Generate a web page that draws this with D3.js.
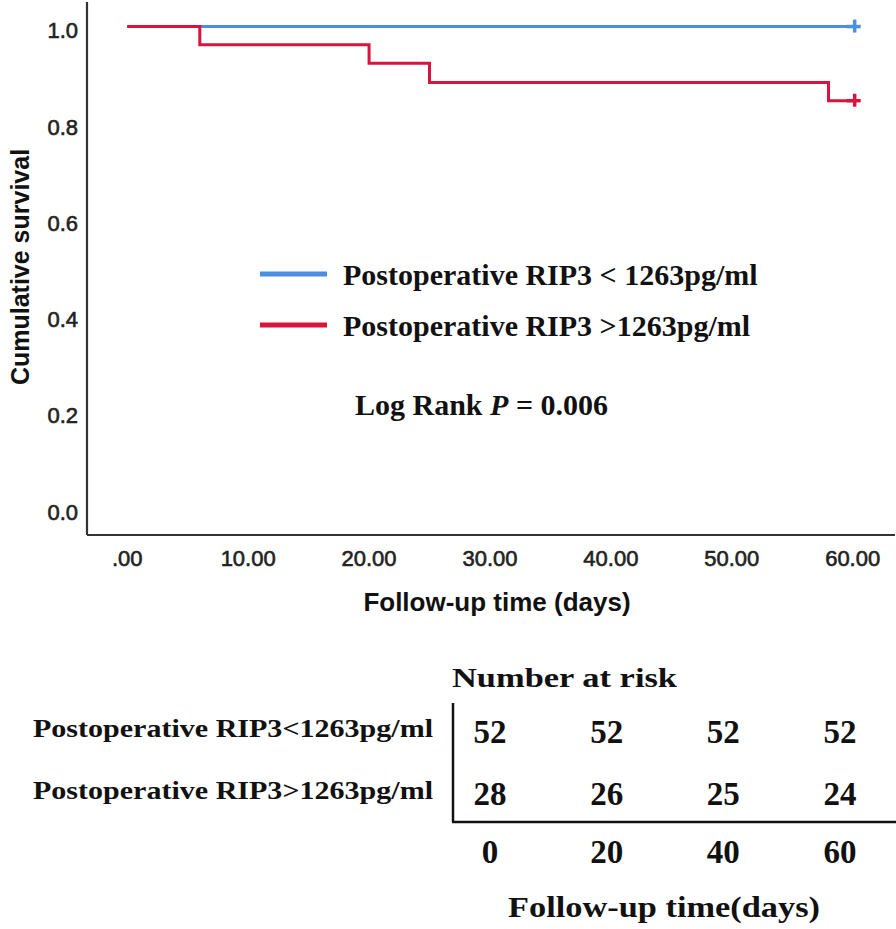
<!DOCTYPE html>
<html>
<head>
<meta charset="utf-8">
<script src="https://cdn.jsdelivr.net/npm/d3@7"></script>
<style>
  body { margin: 0; background: #fff; }
  svg { display: block; }
</style>
</head>
<body>
<div id="chart"></div>
<script>

// survival data (step points: time, survival)
var low_steps = [[0, 1.0], [60, 1.0]];
var high_steps = [[0, 1.0], [6, 0.962], [20, 0.924], [25, 0.884], [58, 0.846], [60, 0.846]];
var low_censor = [[60, 1.0]];
var high_censor = [[60, 0.846]];

var y_ticks = [0.0, 0.2, 0.4, 0.6, 0.8, 1.0];
var x_ticks = [0, 10, 20, 30, 40, 50, 60];

var risk_times = [0, 20, 40, 60];
var risk_low = [52, 52, 52, 52];
var risk_high = [28, 26, 25, 24];
var group_names = ['Postoperative RIP3<1263pg/ml', 'Postoperative RIP3>1263pg/ml'];
var legend_names = ['Postoperative RIP3 < 1263pg/ml', 'Postoperative RIP3 >1263pg/ml'];

var blue = '#4a8fe2';
var red = '#d8143e';
var sans = '"Liberation Sans", Arial, sans-serif';
var serif = '"Liberation Serif", "Times New Roman", serif';

var width = 896, height = 929;

var svg = d3.select('#chart').append('svg')
  .attr('width', width)
  .attr('height', height);

var x = d3.scaleLinear().domain([-3.33, 63.5]).range([87, 895]);
var y = d3.scaleLinear().domain([-0.056, 1.051]).range([535, 2]);

// axes
svg.append('line')
  .attr('x1', x(-3.33)).attr('x2', x(-3.33))
  .attr('y1', y(1.051)).attr('y2', y(-0.056))
  .style('stroke', '#333').style('stroke-width', 2.2);

svg.append('line')
  .attr('x1', x(-3.33)).attr('x2', x(63.5))
  .attr('y1', y(-0.056)).attr('y2', y(-0.056))
  .style('stroke', '#333').style('stroke-width', 2.2);

svg.selectAll('.ytick')
  .data(y_ticks)
  .enter()
  .append('text')
  .attr('class', 'ytick')
  .attr('x', 78)
  .attr('y', function(d){ return y(d) + 4; })
  .attr('dy', '0.35em')
  .attr('text-anchor', 'end')
  .style('font-family', sans)
  .style('font-size', '22px')
  .style('fill', '#222')
  .style('stroke', '#222')
  .style('stroke-width', 0.6)
  .text(function(d){ return d3.format('.1f')(d); });

svg.selectAll('.xtick')
  .data(x_ticks)
  .enter()
  .append('text')
  .attr('class', 'xtick')
  .attr('x', function(d){ return x(d); })
  .attr('y', 566)
  .attr('text-anchor', 'middle')
  .style('font-family', sans)
  .style('font-size', '22px')
  .style('fill', '#222')
  .style('stroke', '#222')
  .style('stroke-width', 0.6)
  .text(function(d){ return d === 0 ? '.00' : d3.format('.2f')(d); });

svg.append('text')
  .attr('transform', 'translate(29,267) rotate(-90)')
  .attr('text-anchor', 'middle')
  .style('font-family', sans)
  .style('font-weight', 'bold')
  .style('font-size', '25px')
  .style('fill', '#111')
  .text('Cumulative survival');

svg.append('text')
  .attr('x', 497)
  .attr('y', 611)
  .attr('text-anchor', 'middle')
  .style('font-family', sans)
  .style('font-weight', 'bold')
  .style('font-size', '26px')
  .style('fill', '#111')
  .text('Follow-up time (days)');

// curves
var step_line = d3.line()
  .x(function(d){ return x(d[0]); })
  .y(function(d){ return y(d[1]); })
  .curve(d3.curveStepAfter);

function draw_curve(steps, censor, color){
  svg.append('path')
    .datum(steps)
    .attr('d', step_line)
    .style('fill', 'none')
    .style('stroke', color)
    .style('stroke-width', 3);

  var marks = svg.selectAll(null)
    .data(censor)
    .enter()
    .append('g')
    .attr('transform', function(d){ return 'translate(' + x(d[0]) + ',' + y(d[1]) + ')'; });

  marks.append('line')
    .attr('x1', -6).attr('x2', 8).attr('y1', 0).attr('y2', 0)
    .style('stroke', color).style('stroke-width', 3.5);
  marks.append('line')
    .attr('x1', 2).attr('x2', 2).attr('y1', -7).attr('y2', 6)
    .style('stroke', color).style('stroke-width', 3.5);
}

draw_curve(low_steps, low_censor, blue);
draw_curve(high_steps, high_censor, red);

// legend
var legend = svg.selectAll('.legend')
  .data(legend_names)
  .enter()
  .append('g')
  .attr('class', 'legend')
  .attr('transform', function(d, i){ return 'translate(260,' + (274 + i * 51) + ')'; });

legend.append('line')
  .attr('x1', 0).attr('x2', 67)
  .style('stroke', function(d, i){ return i === 0 ? blue : red; })
  .style('stroke-width', 5);

legend.append('text')
  .attr('x', 83)
  .attr('y', 11)
  .style('font-family', serif)
  .style('font-weight', 'bold')
  .style('font-size', '30px')
  .style('fill', '#111')
  .text(function(d){ return d; });

var logrank = svg.append('text')
  .attr('x', 355)
  .attr('y', 415)
  .style('font-family', serif)
  .style('font-weight', 'bold')
  .style('font-size', '30px')
  .style('fill', '#111');
logrank.append('tspan').text('Log Rank ');
logrank.append('tspan').style('font-style', 'italic').text('P');
logrank.append('tspan').text(' = 0.006');

// number at risk table
var rx = d3.scaleLinear().domain([0, 60]).range([490, 840]);
var row_y = [743, 805];

svg.append('text')
  .attr('x', 452)
  .attr('y', 687)
  .attr('textLength', 225)
  .attr('lengthAdjust', 'spacingAndGlyphs')
  .style('font-family', serif)
  .style('font-weight', 'bold')
  .style('font-size', '27px')
  .style('fill', '#111')
  .text('Number at risk');

svg.selectAll('.group_name')
  .data(group_names)
  .enter()
  .append('text')
  .attr('class', 'group_name')
  .attr('x', 33)
  .attr('y', function(d, i){ return row_y[i] - 6; })
  .attr('textLength', 400)
  .attr('lengthAdjust', 'spacingAndGlyphs')
  .style('font-family', serif)
  .style('font-weight', 'bold')
  .style('font-size', '26px')
  .style('fill', '#111')
  .text(function(d){ return d; });

[risk_low, risk_high].forEach(function(row, i){
  svg.selectAll(null)
    .data(row)
    .enter()
    .append('text')
    .attr('x', function(d, j){ return rx(risk_times[j]); })
    .attr('y', row_y[i])
    .attr('text-anchor', 'middle')
    .style('font-family', serif)
    .style('font-weight', 'bold')
    .style('font-size', '33px')
    .style('fill', '#111')
    .text(function(d){ return d; });
});

svg.append('line')
  .attr('x1', 453).attr('x2', 453)
  .attr('y1', 703).attr('y2', 822)
  .style('stroke', '#111').style('stroke-width', 2.5);
svg.append('line')
  .attr('x1', 452).attr('x2', 896)
  .attr('y1', 822).attr('y2', 822)
  .style('stroke', '#111').style('stroke-width', 2.5);

svg.selectAll('.risk_tick')
  .data(risk_times)
  .enter()
  .append('text')
  .attr('class', 'risk_tick')
  .attr('x', function(d){ return rx(d); })
  .attr('y', 863)
  .attr('text-anchor', 'middle')
  .style('font-family', serif)
  .style('font-weight', 'bold')
  .style('font-size', '33px')
  .style('fill', '#111')
  .text(function(d){ return d; });

svg.append('text')
  .attr('x', 508)
  .attr('y', 917)
  .attr('textLength', 312)
  .attr('lengthAdjust', 'spacingAndGlyphs')
  .style('font-family', serif)
  .style('font-weight', 'bold')
  .style('font-size', '30px')
  .style('fill', '#111')
  .text('Follow-up time(days)');

</script>
</body>
</html>
